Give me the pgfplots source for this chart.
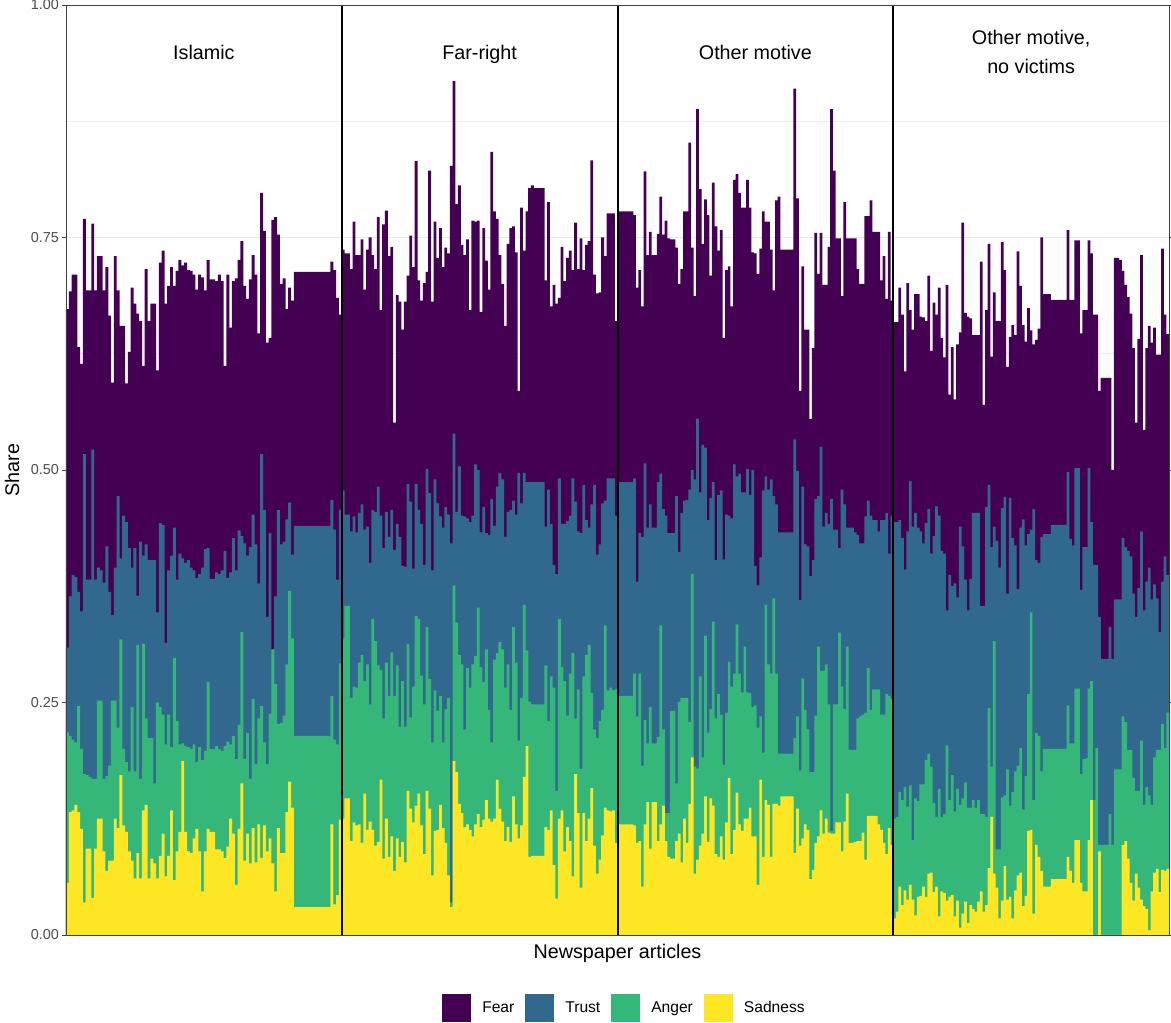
\documentclass[border=0pt]{standalone}
\usepackage{pgfplots}
\pgfplotsset{compat=1.18}
\usepackage{pgfplotstable}
\usepackage{fontspec}
\setmainfont{Liberation Sans}
\definecolor{fearc}{HTML}{440154}
\definecolor{trustc}{HTML}{31688E}
\definecolor{angerc}{HTML}{35B779}
\definecolor{sadc}{HTML}{FDE725}

% columns: F = top of Fear (total), T = top of Trust, A = top of Anger, S = top of Sadness
\pgfplotstableread{
F T A S
0.673 0.309 0.218 0.056
0.692 0.364 0.214 0.132
0.710 0.387 0.210 0.134
0.710 0.385 0.207 0.140
0.632 0.369 0.246 0.132
0.614 0.348 0.200 0.114
0.770 0.517 0.173 0.035
0.693 0.382 0.172 0.093
0.693 0.382 0.170 0.093
0.765 0.522 0.168 0.040
0.693 0.382 0.168 0.093
0.730 0.395 0.252 0.125
0.730 0.392 0.252 0.125
0.693 0.379 0.168 0.090
0.718 0.418 0.171 0.069
0.666 0.369 0.182 0.080
0.594 0.344 0.252 0.080
0.730 0.395 0.252 0.125
0.693 0.472 0.223 0.115
0.655 0.405 0.318 0.172
0.655 0.451 0.200 0.118
0.593 0.444 0.186 0.111
0.627 0.416 0.176 0.090
0.696 0.395 0.245 0.080
0.679 0.416 0.176 0.061
0.668 0.365 0.312 0.088
0.660 0.423 0.168 0.061
0.612 0.408 0.313 0.134
0.716 0.420 0.233 0.140
0.660 0.403 0.212 0.061
0.679 0.403 0.212 0.082
0.679 0.403 0.163 0.077
0.607 0.347 0.250 0.061
0.723 0.443 0.245 0.085
0.736 0.441 0.237 0.109
0.679 0.314 0.205 0.063
0.698 0.392 0.237 0.085
0.718 0.408 0.202 0.134
0.698 0.438 0.298 0.059
0.714 0.382 0.230 0.090
0.726 0.410 0.205 0.111
0.720 0.405 0.206 0.187
0.723 0.400 0.203 0.111
0.715 0.403 0.202 0.090
0.714 0.395 0.200 0.088
0.710 0.392 0.205 0.104
0.694 0.384 0.186 0.114
0.710 0.388 0.202 0.090
0.707 0.395 0.188 0.047
0.693 0.415 0.198 0.090
0.726 0.416 0.272 0.114
0.705 0.383 0.200 0.111
0.705 0.383 0.200 0.111
0.703 0.390 0.203 0.092
0.710 0.388 0.200 0.092
0.703 0.392 0.198 0.090
0.612 0.413 0.203 0.083
0.710 0.384 0.208 0.095
0.653 0.390 0.205 0.125
0.703 0.427 0.214 0.109
0.706 0.392 0.189 0.054
0.726 0.435 0.226 0.114
0.746 0.429 0.326 0.163
0.698 0.421 0.189 0.080
0.684 0.408 0.217 0.109
0.705 0.417 0.168 0.077
0.731 0.452 0.254 0.115
0.710 0.420 0.184 0.078
0.647 0.378 0.233 0.119
0.798 0.517 0.246 0.083
0.757 0.457 0.207 0.118
0.637 0.342 0.184 0.090
0.642 0.432 0.238 0.104
0.769 0.307 0.307 0.077
0.772 0.364 0.270 0.047
0.753 0.457 0.227 0.115
0.700 0.420 0.228 0.088
0.706 0.423 0.236 0.088
0.673 0.447 0.291 0.132
0.696 0.465 0.370 0.165
0.682 0.409 0.319 0.137
0.713 0.440 0.214 0.030
0.713 0.440 0.214 0.030
0.713 0.440 0.214 0.030
0.713 0.440 0.214 0.030
0.713 0.440 0.214 0.030
0.713 0.440 0.214 0.030
0.713 0.440 0.214 0.030
0.713 0.440 0.214 0.030
0.713 0.440 0.214 0.030
0.713 0.440 0.214 0.030
0.713 0.440 0.214 0.030
0.713 0.440 0.214 0.030
0.713 0.440 0.214 0.030
0.724 0.468 0.257 0.119
0.715 0.436 0.210 0.033
0.685 0.382 0.205 0.043
0.667 0.457 0.292 0.124
}\pone

\pgfplotstableread{
F T A S
0.737 0.478 0.319 0.125
0.733 0.452 0.354 0.147
0.733 0.452 0.354 0.147
0.716 0.434 0.255 0.101
0.767 0.450 0.267 0.121
0.731 0.433 0.266 0.118
0.731 0.454 0.293 0.119
0.748 0.463 0.301 0.099
0.694 0.436 0.273 0.152
0.737 0.439 0.291 0.113
0.750 0.400 0.248 0.122
0.731 0.457 0.340 0.113
0.716 0.455 0.316 0.096
0.772 0.482 0.290 0.100
0.672 0.451 0.285 0.167
0.764 0.416 0.233 0.082
0.779 0.455 0.293 0.125
0.730 0.428 0.257 0.084
0.740 0.457 0.304 0.106
0.551 0.414 0.257 0.069
0.688 0.442 0.290 0.104
0.681 0.428 0.224 0.084
0.651 0.397 0.273 0.100
0.681 0.396 0.224 0.078
0.709 0.485 0.313 0.155
0.752 0.466 0.234 0.136
0.718 0.394 0.267 0.121
0.832 0.485 0.343 0.139
0.704 0.457 0.340 0.152
0.682 0.442 0.279 0.118
0.701 0.398 0.248 0.087
0.713 0.501 0.331 0.155
0.822 0.475 0.275 0.136
0.681 0.392 0.207 0.064
0.767 0.490 0.263 0.112
0.728 0.464 0.241 0.113
0.760 0.450 0.257 0.140
0.718 0.438 0.207 0.115
0.739 0.460 0.243 0.099
0.733 0.452 0.255 0.064
0.827 0.421 0.035 0.030
0.918 0.539 0.376 0.187
0.786 0.455 0.336 0.175
0.806 0.504 0.301 0.141
0.742 0.451 0.291 0.131
0.731 0.450 0.221 0.116
0.748 0.448 0.287 0.119
0.672 0.444 0.266 0.113
0.768 0.451 0.291 0.106
0.767 0.506 0.300 0.119
0.768 0.500 0.352 0.130
0.670 0.433 0.288 0.116
0.760 0.460 0.272 0.124
0.725 0.432 0.307 0.145
0.694 0.430 0.242 0.125
0.842 0.469 0.207 0.122
0.778 0.440 0.296 0.125
0.770 0.482 0.303 0.167
0.731 0.497 0.315 0.136
0.700 0.490 0.307 0.122
0.655 0.428 0.266 0.101
0.743 0.455 0.291 0.116
0.760 0.457 0.242 0.100
0.762 0.467 0.331 0.149
0.734 0.452 0.293 0.119
0.585 0.497 0.209 0.104
0.782 0.464 0.255 0.118
0.736 0.497 0.355 0.170
0.778 0.487 0.306 0.203
0.803 0.487 0.251 0.084
0.806 0.487 0.248 0.085
0.803 0.487 0.248 0.085
0.803 0.487 0.248 0.085
0.803 0.487 0.248 0.085
0.803 0.487 0.248 0.085
0.704 0.439 0.290 0.116
0.788 0.479 0.230 0.113
0.676 0.442 0.278 0.134
0.699 0.398 0.266 0.075
0.679 0.388 0.155 0.039
0.685 0.491 0.340 0.125
0.740 0.442 0.288 0.134
0.703 0.442 0.273 0.090
0.728 0.445 0.236 0.116
0.736 0.451 0.281 0.101
0.715 0.491 0.303 0.063
0.766 0.466 0.233 0.173
0.716 0.434 0.264 0.131
0.749 0.432 0.179 0.051
0.715 0.484 0.278 0.131
0.742 0.446 0.301 0.101
0.746 0.438 0.312 0.125
0.833 0.463 0.260 0.158
0.710 0.484 0.221 0.096
0.690 0.409 0.212 0.066
0.691 0.420 0.230 0.081
0.750 0.464 0.242 0.107
0.730 0.467 0.333 0.137
0.776 0.491 0.263 0.134
0.776 0.491 0.266 0.133
0.776 0.491 0.263 0.134
0.660 0.451 0.264 0.099
}\ptwo

\pgfplotstableread{
F T A S
0.778 0.487 0.257 0.119
0.778 0.487 0.257 0.119
0.778 0.487 0.257 0.119
0.778 0.487 0.257 0.119
0.778 0.487 0.257 0.119
0.778 0.487 0.257 0.119
0.774 0.491 0.281 0.118
0.696 0.380 0.235 0.099
0.715 0.432 0.281 0.101
0.676 0.428 0.182 0.052
0.821 0.507 0.231 0.119
0.731 0.438 0.206 0.143
0.756 0.463 0.245 0.093
0.731 0.438 0.206 0.143
0.731 0.438 0.206 0.143
0.754 0.487 0.213 0.101
0.794 0.496 0.333 0.119
0.753 0.458 0.221 0.139
0.768 0.451 0.131 0.101
0.749 0.432 0.131 0.084
0.748 0.432 0.241 0.082
0.748 0.432 0.241 0.082
0.739 0.472 0.163 0.101
0.700 0.412 0.251 0.109
0.716 0.454 0.255 0.078
0.778 0.467 0.255 0.125
0.778 0.468 0.255 0.099
0.852 0.479 0.229 0.141
0.739 0.500 0.388 0.191
0.687 0.490 0.181 0.066
0.888 0.555 0.179 0.081
0.802 0.476 0.278 0.096
0.743 0.527 0.191 0.109
0.791 0.524 0.322 0.149
0.774 0.446 0.218 0.100
0.709 0.470 0.243 0.147
0.809 0.487 0.337 0.139
0.762 0.403 0.233 0.087
0.736 0.473 0.259 0.084
0.758 0.478 0.237 0.106
0.642 0.404 0.183 0.081
0.715 0.452 0.239 0.121
0.719 0.451 0.294 0.169
0.676 0.448 0.267 0.087
0.812 0.506 0.281 0.113
0.818 0.493 0.334 0.153
0.798 0.496 0.281 0.119
0.782 0.476 0.261 0.112
0.782 0.476 0.310 0.125
0.812 0.501 0.261 0.125
0.782 0.473 0.260 0.137
0.734 0.500 0.245 0.106
0.733 0.397 0.247 0.106
0.711 0.376 0.223 0.054
0.738 0.406 0.235 0.167
0.778 0.478 0.196 0.084
0.767 0.493 0.355 0.145
0.767 0.479 0.291 0.140
0.737 0.490 0.281 0.084
0.693 0.472 0.362 0.141
0.790 0.463 0.281 0.141
0.794 0.433 0.195 0.139
0.737 0.433 0.195 0.149
0.737 0.433 0.195 0.149
0.737 0.433 0.195 0.149
0.737 0.433 0.195 0.149
0.737 0.433 0.195 0.149
0.910 0.533 0.212 0.088
0.792 0.499 0.235 0.136
0.585 0.360 0.177 0.096
0.719 0.482 0.276 0.104
0.651 0.420 0.242 0.119
0.651 0.418 0.221 0.113
0.555 0.386 0.175 0.060
0.631 0.403 0.175 0.070
0.755 0.469 0.236 0.099
0.711 0.472 0.310 0.106
0.755 0.525 0.284 0.134
0.699 0.439 0.284 0.109
0.699 0.454 0.291 0.125
0.740 0.442 0.248 0.110
0.888 0.469 0.112 0.109
0.822 0.436 0.248 0.109
0.749 0.436 0.248 0.121
0.749 0.416 0.325 0.121
0.687 0.479 0.267 0.090
0.788 0.463 0.243 0.122
0.749 0.438 0.310 0.152
0.749 0.438 0.199 0.099
0.749 0.438 0.199 0.099
0.749 0.433 0.199 0.100
0.716 0.430 0.233 0.101
0.700 0.421 0.235 0.101
0.700 0.421 0.237 0.110
0.773 0.450 0.239 0.081
0.773 0.467 0.287 0.128
0.790 0.451 0.242 0.128
0.756 0.446 0.264 0.128
0.756 0.446 0.264 0.128
0.756 0.434 0.264 0.119
0.704 0.446 0.237 0.113
0.730 0.446 0.237 0.099
0.684 0.454 0.259 0.087
0.756 0.410 0.257 0.115
0.682 0.451 0.254 0.097
}\pthree

\pgfplotstableread{
F T A S
0.659 0.444 0.125 0.018
0.659 0.444 0.127 0.025
0.696 0.446 0.154 0.052
0.667 0.427 0.145 0.032
0.606 0.393 0.159 0.048
0.701 0.434 0.138 0.038
0.672 0.488 0.161 0.054
0.651 0.439 0.102 0.038
0.689 0.454 0.147 0.021
0.689 0.438 0.144 0.041
0.665 0.434 0.162 0.042
0.664 0.421 0.162 0.052
0.660 0.443 0.188 0.041
0.709 0.458 0.195 0.066
0.628 0.410 0.181 0.067
0.680 0.429 0.142 0.046
0.667 0.461 0.127 0.052
0.696 0.451 0.157 0.020
0.642 0.413 0.127 0.047
0.621 0.410 0.130 0.045
0.699 0.349 0.204 0.037
0.581 0.387 0.145 0.041
0.632 0.375 0.172 0.043
0.576 0.378 0.133 0.020
0.635 0.363 0.157 0.037
0.648 0.439 0.140 0.008
0.766 0.418 0.147 0.023
0.669 0.382 0.164 0.036
0.665 0.349 0.137 0.013
0.663 0.383 0.137 0.032
0.645 0.454 0.145 0.028
0.645 0.454 0.137 0.025
0.645 0.454 0.145 0.036
0.724 0.354 0.130 0.047
0.570 0.354 0.130 0.025
0.672 0.460 0.127 0.032
0.743 0.484 0.244 0.072
0.622 0.417 0.181 0.127
0.691 0.439 0.316 0.066
0.660 0.424 0.092 0.051
0.660 0.395 0.092 0.018
0.745 0.459 0.148 0.037
0.715 0.471 0.150 0.074
0.611 0.367 0.178 0.038
0.643 0.470 0.139 0.041
0.656 0.427 0.154 0.018
0.645 0.419 0.176 0.048
0.735 0.372 0.182 0.064
0.698 0.438 0.201 0.067
0.656 0.447 0.135 0.031
0.638 0.419 0.171 0.042
0.674 0.431 0.259 0.112
0.650 0.436 0.347 0.113
0.635 0.458 0.145 0.023
0.640 0.403 0.217 0.097
0.652 0.400 0.214 0.084
0.750 0.428 0.176 0.069
0.689 0.431 0.200 0.052
0.689 0.431 0.200 0.052
0.689 0.431 0.200 0.052
0.683 0.441 0.200 0.060
0.683 0.441 0.200 0.060
0.683 0.441 0.200 0.060
0.683 0.441 0.200 0.060
0.683 0.441 0.200 0.060
0.683 0.441 0.200 0.060
0.758 0.498 0.247 0.084
0.683 0.426 0.206 0.069
0.683 0.419 0.206 0.056
0.747 0.502 0.265 0.102
0.747 0.502 0.265 0.102
0.647 0.371 0.173 0.056
0.672 0.417 0.189 0.047
0.672 0.417 0.190 0.047
0.747 0.502 0.265 0.102
0.733 0.444 0.273 0.145
0.667 0.398 0.145 0.000
0.667 0.398 0.201 0.000
0.585 0.342 0.097 0.090
0.599 0.297 0.097 0.000
0.599 0.297 0.097 0.000
0.599 0.297 0.097 0.000
0.599 0.331 0.130 0.000
0.500 0.297 0.097 0.000
0.728 0.361 0.178 0.000
0.728 0.361 0.178 0.000
0.726 0.361 0.178 0.000
0.714 0.427 0.235 0.097
0.699 0.417 0.229 0.101
0.686 0.413 0.199 0.082
0.668 0.407 0.199 0.056
0.631 0.367 0.169 0.037
0.551 0.342 0.155 0.066
0.641 0.373 0.155 0.051
0.731 0.434 0.209 0.038
0.543 0.349 0.140 0.031
0.631 0.380 0.159 0.028
0.655 0.395 0.150 0.005
0.637 0.361 0.140 0.047
0.653 0.377 0.191 0.067
0.624 0.362 0.199 0.071
0.624 0.326 0.199 0.046
0.738 0.380 0.227 0.070
0.667 0.407 0.201 0.069
0.646 0.387 0.239 0.071
}\pfour

% #1 table, #2 panel offset, #3 slot width (1/n), #4 drawn bar width
\newcommand{\panel}[4]{%
  \addplot[ybar, bar shift=0pt, bar width=#4, fill=fearc, draw=none, forget plot]
    table[x expr={#2+(\coordindex+0.5)*#3}, y=F] {#1};
  \addplot[ybar, bar shift=0pt, bar width=#4, fill=trustc, draw=none, forget plot]
    table[x expr={#2+(\coordindex+0.5)*#3}, y=T] {#1};
  \addplot[ybar, bar shift=0pt, bar width=#4, fill=angerc, draw=none, forget plot]
    table[x expr={#2+(\coordindex+0.5)*#3}, y=A] {#1};
  \addplot[ybar, bar shift=0pt, bar width=#4, fill=sadc, draw=none, forget plot]
    table[x expr={#2+(\coordindex+0.5)*#3}, y=S] {#1};
}

\begin{document}
\begin{tikzpicture}
\path[use as bounding box] (0,0) rectangle (878.25pt,767.25pt);
\begin{axis}[
  at={(49.5pt,66pt)}, anchor=south west,
  scale only axis, width=827.25pt, height=697.5pt,
  xmin=0, xmax=4, ymin=0, ymax=1,
  xtick=\empty,
  ytick={0,0.25,0.5,0.75,1},
  yticklabels={0.00,0.25,0.50,0.75,1.00},
  minor ytick={0.125,0.375,0.625,0.875},
  ymajorgrids, yminorgrids,
  major grid style={draw=black!9, line width=0.6pt},
  minor grid style={draw=black!7, line width=0.4pt},
  tick align=outside, major tick length=3pt, minor tick length=0pt,
  ytick style={draw=black!75, line width=0.6pt},
  /pgf/number format/assume math mode=true,
  yticklabel style={font=\fontsize{10.8}{12}\selectfont, text=black!70, inner sep=0pt, xshift=-2.2pt},
  axis line style={draw=black!75, line width=0.6pt},
  xlabel={Newspaper articles}, ylabel={Share},
  every axis x label/.style={at={(0.5,-0.01935)}, anchor=center, font=\fontsize{14.8}{16}\selectfont},
  every axis y label/.style={at={(-0.04896,0.5)}, anchor=center, rotate=90, font=\fontsize{14.8}{16}\selectfont},
  legend style={at={(0.5054,-0.0785)}, anchor=center, draw=none, fill=none,
    legend columns=4, font=\fontsize{11.7}{13}\selectfont,
    cells={anchor=west}, nodes={inner sep=0pt},
    /tikz/every odd column/.append style={column sep=8.25pt},
    /tikz/every even column/.append style={column sep=8.25pt}},
  legend image code/.code={\fill[#1] (0pt,-10.5pt) rectangle (21.75pt,10.5pt);},
]
\panel{\pone}{0}{0.0102041}{0.0106}
\panel{\ptwo}{1}{0.0098039}{0.0102}
\panel{\pthree}{2}{0.0095238}{0.0099}
\panel{\pfour}{3}{0.0095238}{0.0099}

\addlegendimage{fill=fearc, draw=none}
\addlegendentry{Fear}
\addlegendimage{fill=trustc, draw=none}
\addlegendentry{Trust}
\addlegendimage{fill=angerc, draw=none}
\addlegendentry{Anger}
\addlegendimage{fill=sadc, draw=none}
\addlegendentry{Sadness}

\draw[black, line width=1.5pt] (axis cs:1,0) -- (axis cs:1,1);
\draw[black, line width=1.5pt] (axis cs:2,0) -- (axis cs:2,1);
\draw[black, line width=1.5pt] (axis cs:3,0) -- (axis cs:3,1);
\draw[black!75, line width=0.6pt] (rel axis cs:0,0) rectangle (rel axis cs:1,1);

\node[font=\fontsize{14.8}{21.5}\selectfont, align=center] at (axis cs:0.5,0.9495) {Islamic};
\node[font=\fontsize{14.8}{21.5}\selectfont, align=center, text depth=0pt] at (axis cs:1.5,0.9495) {Far-right};
\node[font=\fontsize{14.8}{21.5}\selectfont, align=center] at (axis cs:2.5,0.9495) {Other motive};
\node[font=\fontsize{14.8}{21.5}\selectfont, align=center] at (axis cs:3.5,0.9495) {Other motive,\\ no victims};
\end{axis}
\end{tikzpicture}
\end{document}
